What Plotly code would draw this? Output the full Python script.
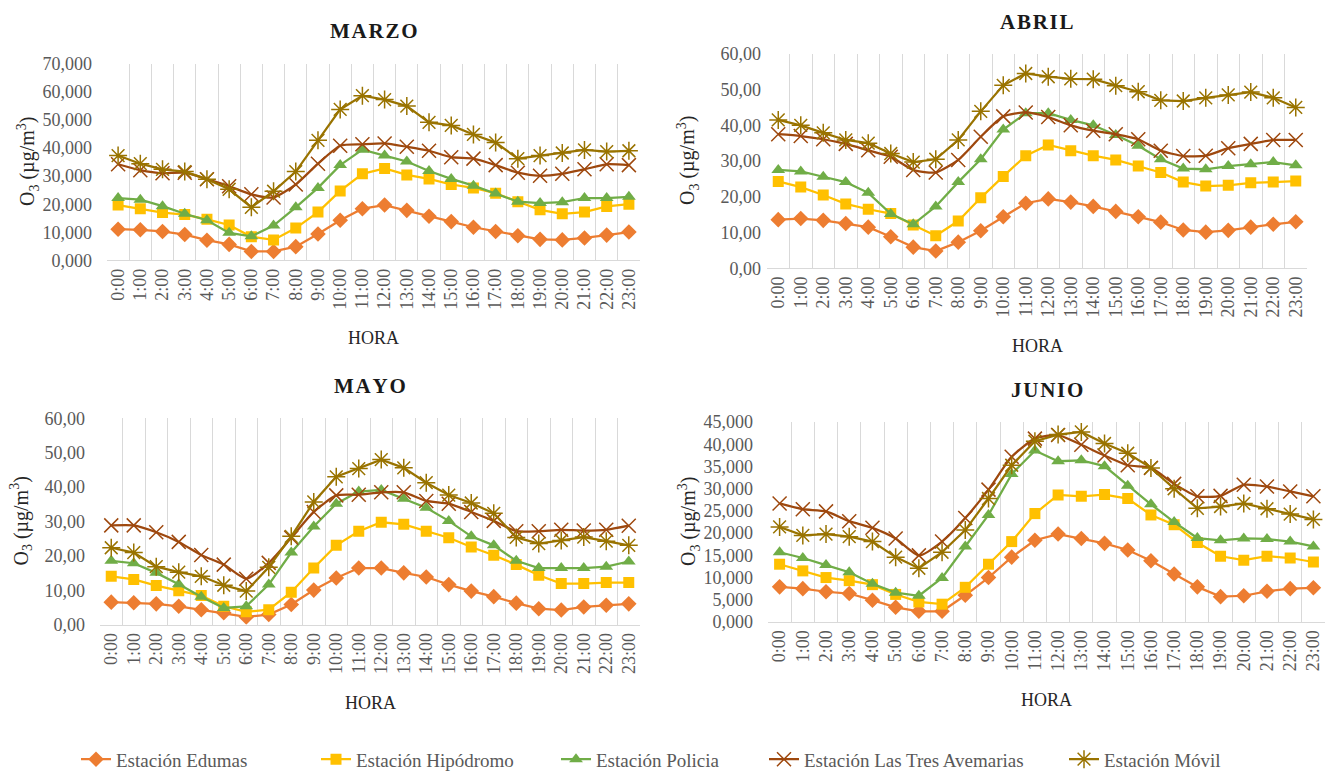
import plotly.graph_objects as go

# Hourly categories
horas = [f"{h}:00" for h in range(24)]

# --- Marzo (µg/m3)
marzo_edumas = [11.1, 10.9, 10.3, 9.2, 7.2, 5.7, 3.2, 3.2, 4.9, 9.4, 14.3, 18.4,
                19.7, 17.8, 15.7, 13.8, 11.8, 10.3, 8.8, 7.5, 7.3, 8.0, 9.0, 10.1]
marzo_hipodromo = [19.7, 18.4, 17.0, 16.3, 14.6, 12.6, 8.4, 7.3, 11.5, 17.2, 24.7, 30.8,
                   32.7, 30.4, 29.0, 27.0, 25.8, 23.9, 20.9, 18.0, 16.6, 17.2, 19.2, 20.0]
marzo_policia = [22.2, 21.6, 19.3, 16.6, 14.3, 9.8, 8.6, 12.4, 18.9, 25.8, 33.9, 39.4,
                 37.3, 35.2, 31.8, 29.0, 26.6, 23.8, 20.9, 20.4, 20.7, 22.2, 22.2, 22.6]
marzo_avemarias = [34.2, 32.1, 31.0, 31.2, 28.9, 26.4, 23.5, 22.4, 27.0, 34.4, 40.8, 41.3,
                   41.6, 40.4, 39.0, 36.7, 36.2, 33.9, 31.2, 30.1, 30.8, 32.4, 34.2, 33.9]
marzo_movil = [37.3, 34.4, 32.4, 31.6, 28.9, 25.3, 18.9, 24.6, 31.6, 42.7, 53.7, 58.6,
               57.2, 54.9, 49.1, 48.0, 44.8, 41.9, 36.2, 37.3, 38.2, 39.3, 38.7, 39.0]

# --- Abril
abril_edumas = [13.6, 13.9, 13.4, 12.5, 11.5, 8.8, 5.9, 4.8, 7.3, 10.5, 14.4, 18.2,
                19.4, 18.5, 17.3, 15.9, 14.4, 12.9, 10.7, 10.1, 10.6, 11.5, 12.3, 13.0]
abril_hipodromo = [24.3, 22.7, 20.5, 18.0, 16.5, 15.3, 12.1, 9.1, 13.2, 19.7, 25.7, 31.5,
                   34.5, 32.9, 31.5, 30.3, 28.6, 26.8, 24.1, 23.0, 23.2, 23.9, 24.1, 24.4]
abril_policia = [27.5, 27.1, 25.6, 24.1, 21.1, 15.2, 12.3, 17.3, 24.1, 30.5, 38.8, 43.4,
                 43.4, 41.5, 40.0, 37.3, 34.3, 30.5, 27.9, 27.7, 28.6, 29.1, 29.7, 28.8]
abril_avemarias = [37.5, 37.0, 36.1, 34.8, 33.0, 31.2, 27.5, 26.8, 30.3, 36.8, 42.5, 43.6,
                   42.3, 40.0, 38.5, 37.5, 36.1, 32.9, 31.4, 31.5, 33.6, 34.8, 35.9, 35.9]
abril_movil = [41.5, 40.0, 37.9, 35.9, 35.0, 32.1, 29.7, 30.5, 35.9, 43.9, 51.2, 54.5,
               53.6, 53.0, 52.9, 51.1, 49.4, 47.0, 46.8, 47.7, 48.5, 49.3, 47.7, 45.0]

# --- Mayo
mayo_edumas = [6.6, 6.4, 6.1, 5.4, 4.4, 3.5, 2.3, 3.0, 5.9, 10.1, 13.6, 16.5,
               16.5, 15.1, 13.9, 11.7, 9.8, 8.2, 6.3, 4.7, 4.3, 5.2, 5.7, 6.1]
mayo_hipodromo = [14.1, 13.2, 11.4, 9.9, 8.5, 5.4, 3.8, 4.4, 9.5, 16.5, 23.1, 27.2,
                  29.8, 29.2, 27.2, 25.3, 22.6, 20.2, 17.5, 14.4, 12.0, 12.0, 12.3, 12.3]
mayo_policia = [18.6, 17.9, 15.1, 11.8, 8.2, 4.9, 5.4, 11.7, 21.0, 28.6, 35.2, 38.7,
                39.2, 36.6, 34.0, 30.2, 25.7, 23.1, 18.6, 16.5, 16.5, 16.5, 16.9, 18.4]
mayo_avemarias = [28.9, 28.9, 26.9, 24.1, 20.3, 17.5, 13.4, 18.0, 25.3, 32.8, 37.6, 37.8,
                  38.5, 38.5, 36.0, 35.2, 32.8, 30.2, 27.2, 27.2, 27.6, 27.4, 27.6, 28.8]
mayo_movil = [22.4, 21.0, 16.9, 15.3, 14.1, 11.5, 9.8, 16.7, 25.7, 35.7, 43.0, 45.4,
              48.0, 45.6, 41.3, 37.7, 35.4, 32.4, 25.4, 23.6, 24.5, 25.5, 24.3, 23.1]

# --- Junio
junio_edumas = [7.9, 7.5, 6.8, 6.4, 4.9, 3.3, 2.4, 2.4, 6.0, 10.0, 14.6, 18.4,
                19.8, 18.8, 17.7, 16.2, 13.8, 10.8, 7.9, 5.7, 5.9, 6.9, 7.5, 7.7]
junio_hipodromo = [13.0, 11.5, 10.0, 9.3, 8.4, 6.2, 4.5, 4.0, 7.8, 13.0, 18.1, 24.4,
                   28.6, 28.3, 28.7, 27.8, 24.1, 21.9, 17.9, 14.8, 13.9, 14.8, 14.4, 13.5]
junio_policia = [15.7, 14.4, 12.8, 11.2, 8.6, 6.6, 5.9, 9.9, 17.0, 24.1, 33.3, 38.6,
                 36.2, 36.4, 35.1, 30.7, 26.5, 22.5, 18.9, 18.4, 18.8, 18.7, 18.1, 17.0]
junio_avemarias = [26.7, 25.4, 24.9, 22.7, 21.2, 18.8, 15.0, 18.1, 23.4, 29.8, 37.2, 41.3,
                   42.1, 39.9, 37.5, 35.3, 34.7, 31.1, 28.3, 28.4, 30.9, 30.5, 29.4, 28.3]
junio_movil = [21.4, 19.5, 19.8, 19.2, 18.1, 14.6, 12.1, 15.7, 20.7, 27.8, 35.3, 40.7,
               42.2, 42.8, 40.2, 38.0, 34.7, 30.0, 25.6, 26.0, 26.7, 25.5, 24.3, 23.1]

estaciones = ["Estación Edumas", "Estación Hipódromo", "Estación Policia",
              "Estación Las Tres Avemarias", "Estación Móvil"]

meses = ["MARZO", "ABRIL", "MAYO", "JUNIO"]
datos = {
    "MARZO": [marzo_edumas, marzo_hipodromo, marzo_policia, marzo_avemarias, marzo_movil],
    "ABRIL": [abril_edumas, abril_hipodromo, abril_policia, abril_avemarias, abril_movil],
    "MAYO": [mayo_edumas, mayo_hipodromo, mayo_policia, mayo_avemarias, mayo_movil],
    "JUNIO": [junio_edumas, junio_hipodromo, junio_policia, junio_avemarias, junio_movil],
}

W, H = 1333, 782
SERIF = "Liberation Serif, Times New Roman, serif"
GRAY = "#595959"

# Series styles
estilos = [
    dict(color="#ED7D31", symbol="diamond", size=12, mline="#ED7D31", mw=0, shape="linear"),
    dict(color="#FFC000", symbol="square", size=11, mline="#FFC000", mw=0, shape="linear"),
    dict(color="#70AD47", symbol="triangle-up", size=12, mline="#70AD47", mw=0, shape="linear"),
    dict(color="#9E480E", symbol="x-thin-open", size=14, mline="#CC8C6C", mw=1.5, shape="spline"),
    dict(color="#997300", symbol="asterisk-open", size=15, mline="#B8972F", mw=1.5, shape="linear"),
]

# Panel geometry in pixels: (left, right, top, bottom, y-label gap)
paneles = {
    "MARZO": (107, 640, 55, 257, 14),
    "ABRIL": (767, 1307, 45, 265, 5),
    "MAYO": (100, 640, 419, 631, 14),
    "JUNIO": (768, 1325, 423, 628, 14),
}
escalas = {
    "MARZO": (70, 10, "{:.3f}"),
    "ABRIL": (60, 10, "{:.2f}"),
    "MAYO": (60, 10, "{:.2f}"),
    "JUNIO": (45, 5, "{:.3f}"),
}

fig = go.Figure()
layout = dict(
    width=W, height=H,
    margin=dict(l=0, r=0, t=0, b=0),
    paper_bgcolor="white", plot_bgcolor="white",
    font=dict(family=SERIF, color=GRAY, size=18),
    annotations=[],
)

for i, mes in enumerate(meses):
    n = "" if i == 0 else str(i + 1)
    xa, ya = "x" + n, "y" + n
    l, r, t, b, gap = paneles[mes]
    ymax, paso, fmt = escalas[mes]
    for j, (nombre, serie) in enumerate(zip(estaciones, datos[mes])):
        e = estilos[j]
        fig.add_trace(go.Scatter(
            x=horas, y=serie, name=nombre, xaxis=xa, yaxis=ya,
            mode="lines+markers",
            line=dict(color=e["color"], width=2.25, shape=e["shape"], smoothing=0.6),
            marker=dict(symbol=e["symbol"], size=e["size"], color=e["color"],
                        line=dict(color=e["mline"], width=e["mw"])),
            showlegend=(i == 0),
            legend="legend" if j == 0 else f"legend{j + 1}",
        ))
    vals = list(range(0, ymax + 1, paso))
    layout["xaxis" + n] = dict(
        domain=[l / W, r / W], anchor=ya, type="category",
        tickson="boundaries", ticks="", showgrid=True, gridcolor="#D9D9D9",
        gridwidth=1, showline=True, linecolor="#D9D9D9", linewidth=1,
        tickangle=-90, tickfont=dict(family=SERIF, size=18, color=GRAY),
        range=[-0.5, 23.5], fixedrange=True,
    )
    layout["yaxis" + n] = dict(
        domain=[1 - b / H, 1 - t / H], anchor=xa, range=[0, ymax],
        tickvals=vals, ticktext=[fmt.format(v).replace(".", ",") for v in vals],
        showgrid=False, zeroline=False, ticks="", ticklen=0, ticklabelstandoff=gap,
        tickfont=dict(family=SERIF, size=18, color=GRAY), fixedrange=True,
    )
    cx = (l + r) / 2
    # Panel title
    layout["annotations"].append(dict(
        text="<b>" + "\u200a".join(mes) + "</b>", x=cx / W, y=1 - (t - 33) / H,
        xref="paper", yref="paper", showarrow=False, xanchor="center", yanchor="middle",
        font=dict(family=SERIF, size=21, color="#1a1a1a"),
    ))
    # X axis title
    layout["annotations"].append(dict(
        text="HORA", x=cx / W, y=1 - (b + 80) / H,
        xref="paper", yref="paper", showarrow=False, xanchor="center", yanchor="middle",
        font=dict(family=SERIF, size=18, color="#262626"),
    ))
    # Y axis title
    layout["annotations"].append(dict(
        text="O<sub>3</sub> (µg/m<sup>3</sup>)", x=(l - 79) / W, y=1 - ((t + b) / 2) / H,
        xref="paper", yref="paper", showarrow=False, xanchor="center", yanchor="middle",
        textangle=-90, font=dict(family=SERIF, size=20, color="#262626"),
    ))

# One legend box per station along the bottom
posiciones = [82, 322, 562, 770, 1070]
for j, px in enumerate(posiciones):
    key = "legend" if j == 0 else f"legend{j + 1}"
    layout[key] = dict(
        x=(px - 6) / W, y=1 - 769 / H, xanchor="left", yanchor="middle",
        orientation="h", bgcolor="rgba(0,0,0,0)", borderwidth=0,
        font=dict(family=SERIF, size=19, color=GRAY), itemwidth=30,
    )

fig.update_layout(**layout)
fig.write_html("out.html")
